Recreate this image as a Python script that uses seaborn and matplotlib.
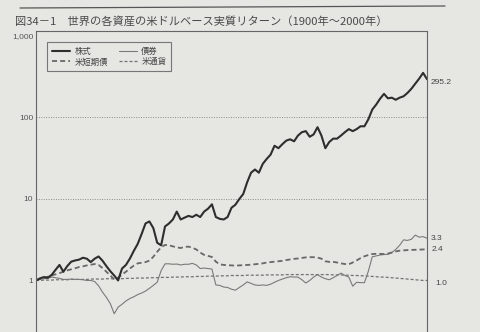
import matplotlib
matplotlib.use("Agg")
import matplotlib.pyplot as plt
import matplotlib.lines as mlines
import seaborn as sns
import pandas as pd

years = list(range(1900, 2001))

stocks = [1.00, 1.06, 1.10, 1.08, 1.17, 1.35, 1.55, 1.28, 1.50, 1.70,
          1.76, 1.80, 1.90, 1.85, 1.68, 1.85, 1.97, 1.75, 1.50, 1.30,
          1.15, 1.00, 1.40, 1.55, 1.85, 2.30, 2.80, 3.70, 5.00, 5.30,
          4.40, 2.90, 2.70, 4.60, 5.00, 5.60, 7.00, 5.60, 5.90, 6.20,
          6.00, 6.40, 6.00, 7.00, 7.60, 8.60, 6.00, 5.70, 5.60, 6.00,
          7.80, 8.50, 10.0, 11.5, 16.0, 21.0, 23.0, 21.0, 27.0, 31.0,
          35.0, 45.0, 42.0, 47.0, 52.0, 54.0, 51.0, 60.0, 66.0, 68.0,
          58.0, 62.0, 76.0, 60.0, 42.0, 50.0, 55.0, 55.0, 60.0, 66.0,
          72.0, 68.0, 72.0, 78.0, 78.0, 95.0, 125.0, 144.0, 170.0, 195.0,
          172.0, 175.0, 165.0, 175.0, 182.0, 200.0, 225.0, 260.0, 300.0, 353.0,
          295.2]

bonds = [1.00, 1.03, 1.05, 1.06, 1.10, 1.08, 1.06, 1.03, 1.03, 1.04,
         1.03, 1.03, 1.02, 1.00, 1.00, 0.97, 0.86, 0.72, 0.62, 0.52,
         0.39, 0.47, 0.51, 0.56, 0.60, 0.63, 0.67, 0.70, 0.74, 0.80,
         0.87, 0.95, 1.32, 1.60, 1.60, 1.58, 1.59, 1.55, 1.58, 1.58,
         1.62, 1.55, 1.40, 1.42, 1.40, 1.38, 0.88, 0.87, 0.83, 0.82,
         0.78, 0.76, 0.82, 0.88, 0.96, 0.92, 0.88, 0.87, 0.88, 0.87,
         0.90, 0.95, 1.00, 1.04, 1.08, 1.11, 1.10, 1.10, 1.02, 0.93,
         1.00, 1.10, 1.18, 1.10, 1.05, 1.02, 1.08, 1.15, 1.23, 1.15,
         1.10, 0.85, 0.95, 0.94, 0.94, 1.30, 1.95, 2.00, 2.05, 2.08,
         2.09, 2.20, 2.40, 2.70, 3.15, 3.10, 3.20, 3.60, 3.40, 3.45,
         3.30]

bills = [1.00, 1.04, 1.07, 1.11, 1.15, 1.19, 1.23, 1.28, 1.33, 1.37,
         1.41, 1.46, 1.49, 1.53, 1.56, 1.59, 1.55, 1.42, 1.28, 1.15,
         1.03, 1.08, 1.18, 1.28, 1.40, 1.52, 1.62, 1.65, 1.68, 1.75,
         1.95, 2.25, 2.55, 2.73, 2.70, 2.62, 2.55, 2.50, 2.58, 2.60,
         2.52, 2.40, 2.20, 2.06, 2.00, 1.94, 1.70, 1.58, 1.55, 1.54,
         1.53, 1.52, 1.53, 1.54, 1.55, 1.56, 1.58, 1.60, 1.62, 1.66,
         1.68, 1.70, 1.72, 1.74, 1.78, 1.81, 1.84, 1.86, 1.89, 1.92,
         1.93, 1.93, 1.91, 1.85, 1.72, 1.69, 1.69, 1.66, 1.62, 1.59,
         1.58, 1.66, 1.76, 1.88, 1.98, 2.05, 2.11, 2.12, 2.12, 2.11,
         2.14, 2.20, 2.27, 2.32, 2.34, 2.36, 2.37, 2.38, 2.39, 2.40,
         2.41]

currency = [1.00, 1.00, 1.01, 1.01, 1.01, 1.02, 1.02, 1.02, 1.02, 1.03,
            1.03, 1.03, 1.03, 1.03, 1.04, 1.04, 1.04, 1.04, 1.05, 1.05,
            1.05, 1.05, 1.05, 1.06, 1.06, 1.06, 1.07, 1.07, 1.07, 1.08,
            1.08, 1.08, 1.09, 1.09, 1.09, 1.10, 1.10, 1.10, 1.11, 1.11,
            1.11, 1.12, 1.12, 1.12, 1.13, 1.13, 1.13, 1.14, 1.14, 1.14,
            1.15, 1.15, 1.15, 1.15, 1.16, 1.16, 1.16, 1.16, 1.16, 1.17,
            1.17, 1.17, 1.17, 1.17, 1.18, 1.18, 1.18, 1.18, 1.18, 1.18,
            1.18, 1.18, 1.18, 1.18, 1.18, 1.18, 1.17, 1.17, 1.17, 1.16,
            1.16, 1.15, 1.15, 1.14, 1.14, 1.13, 1.12, 1.11, 1.10, 1.10,
            1.09, 1.08, 1.07, 1.06, 1.05, 1.04, 1.03, 1.02, 1.01, 1.00,
            1.00]

series_names = ["株式", "米短期債", "債券", "米通貨"]
end_labels = ["295.2", "2.4", "3.3", "1.0"]
title = "図34－1　世界の各資産の米ドルベース実質リターン（1900年～2000年）"
ytick_vals = [1, 10, 100, 1000]
ytick_labels = ["1", "10", "100", "1,000"]

BG = "#e6e6e3"
sns.set_style("white")
plt.rcParams["font.family"] = ["Noto Sans CJK JP", "DejaVu Sans"]

fig = plt.figure(figsize=(4.8, 3.32), dpi=100, facecolor=BG)
W, H = 480, 332
ax_l, ax_r, ax_t, ax_b = 36, 427, 31, 332
ax = fig.add_axes([ax_l / W, 1 - ax_b / H, (ax_r - ax_l) / W, (ax_b - ax_t) / H])
ax.set_facecolor(BG)

df = pd.DataFrame({"year": years, "株式": stocks, "債券": bonds,
                   "米短期債": bills, "米通貨": currency})

styles = {
    "株式": dict(color="#2e2e2e", lw=1.5, linestyle="-"),
    "米短期債": dict(color="#686868", lw=1.3, linestyle=(0, (2.8, 1.7))),
    "債券": dict(color="#7a7a7a", lw=0.8, linestyle="-"),
    "米通貨": dict(color="#727272", lw=0.9, linestyle=(0, (2.4, 1.6))),
}

for name in ["米通貨", "債券", "米短期債", "株式"]:
    sns.lineplot(data=df, x="year", y=name, ax=ax, errorbar=None,
                 legend=False, **styles[name])

ax.set_yscale("log")
ax.set_xlim(1900, 2000)
ax.set_ylim(0.233, 1152)
ax.set_yticks(ytick_vals)
ax.set_yticklabels(ytick_labels)
ax.minorticks_off()
ax.set_xticks([])
ax.set_xlabel("")
ax.set_ylabel("")
ax.tick_params(axis="y", length=0, pad=2, labelsize=6, labelcolor="#555555")
for lab in ax.get_yticklabels():
    lab.set_family(["Liberation Sans", "DejaVu Sans"])

for g in [10, 100]:
    ax.axhline(g, color="#8a8a8a", lw=0.7, linestyle=(0, (1, 1.5)), zorder=0)

for side in ["left", "top", "right"]:
    ax.spines[side].set_color("#666666")
    ax.spines[side].set_linewidth(0.8)
ax.spines["bottom"].set_visible(False)

# end labels
finals = {"株式": stocks[-1], "米短期債": bills[-1], "債券": bonds[-1], "米通貨": currency[-1]}
offsets = {"株式": (2.5, -2.5), "米短期債": (3, 0), "債券": (3, 0), "米通貨": (6, -2.5)}
for name, lab in zip(series_names, end_labels):
    ax.annotate(lab, xy=(2000, finals[name]), xytext=offsets[name],
                textcoords="offset points", ha="left", va="center",
                fontsize=6, color="#444444", annotation_clip=False,
                family=["Liberation Sans", "DejaVu Sans"])

handles = [mlines.Line2D([], [], **styles[n]) for n in series_names]
leg = ax.legend(handles, series_names, ncol=2, loc="upper left",
                bbox_to_anchor=(0.028, 0.963), borderaxespad=0,
                frameon=True, fancybox=False, edgecolor="#777777",
                facecolor=BG, framealpha=1, fontsize=6,
                handlelength=2.2, handletextpad=0.5, columnspacing=1.3,
                labelspacing=0.15, borderpad=0.6)
leg.get_frame().set_linewidth(0.8)
for t in leg.get_texts():
    t.set_color("#444444")

fig.text(15 / W, 1 - 21 / H, title, fontsize=8.1, color="#4a4a4a",
         ha="left", va="center")
fig.add_artist(mlines.Line2D([20 / W, 445 / W], [1 - 8 / H, 1 - 6 / H],
                             color="#555555", lw=0.9))

fig.savefig("out.png", dpi=100, facecolor=BG)
